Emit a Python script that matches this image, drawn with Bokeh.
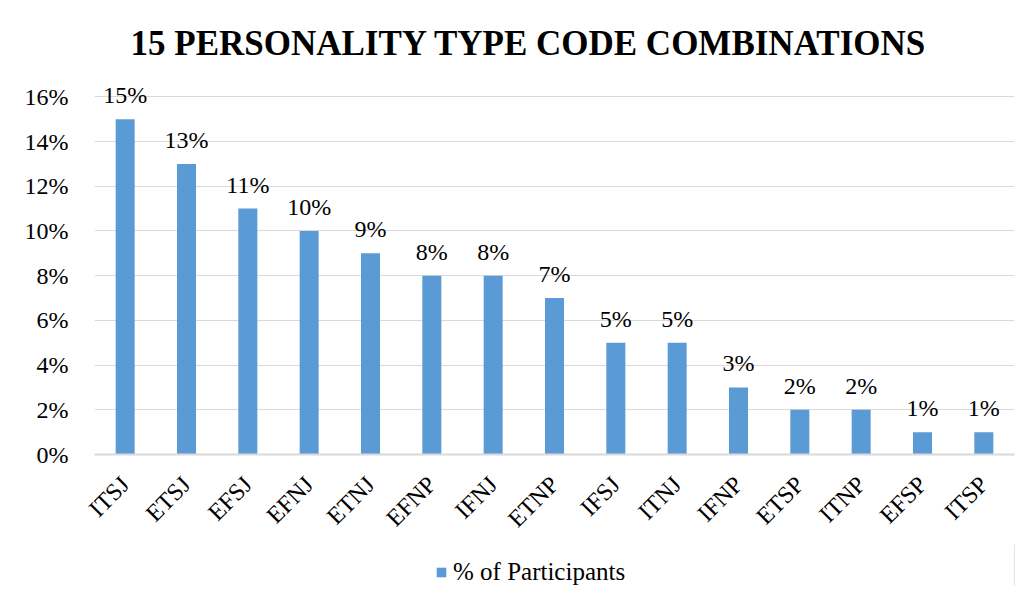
from bokeh.plotting import figure
from bokeh.layouts import column
from bokeh.models import ColumnDataSource, NumeralTickFormatter, FixedTicker, Legend, LegendItem, Range1d, FactorRange
from bokeh.core.properties import value
from bokeh.embed import file_html
from bokeh.resources import INLINE

categories = ["ITSJ", "ETSJ", "EFSJ", "EFNJ", "ETNJ", "EFNP", "IFNJ", "ETNP",
              "IFSJ", "ITNJ", "IFNP", "ETSP", "ITNP", "EFSP", "ITSP"]
participants_pct = [15, 13, 11, 10, 9, 8, 8, 7, 5, 5, 3, 2, 2, 1, 1]
y_ticks = [0, 2, 4, 6, 8, 10, 12, 14, 16]
series_name = "% of Participants"
BAR_COLOR = "#5B9BD5"

src = ColumnDataSource(dict(
    cat=categories,
    val=[v / 100 for v in participants_pct],
    lab=[f"{v}%" for v in participants_pct],
))

FONT = "Liberation Serif"

p = figure(width=1015, height=544, output_backend="svg", toolbar_location=None,
           x_range=FactorRange(factors=categories, range_padding=0),
           y_range=Range1d(0, 0.17),
           min_border_left=94, min_border_right=1, min_border_top=74, min_border_bottom=90)
p.title.text = "15 PERSONALITY TYPE CODE COMBINATIONS"
p.title.align = "left"
p.title.text_font = FONT
p.title.text_font_size = "35px"
p.title.text_font_style = "bold"
p.title.text_color = "#000000"
p.title.standoff = 23
p.title.offset = 36

r = p.vbar(x="cat", top="val", width=0.31, source=src, color=BAR_COLOR, line_color=None)
p.text(x="cat", y="val", text="lab", source=src, text_align="center", text_baseline="bottom",
       y_offset=-11, text_font=value(FONT), text_font_size="24px", text_color="#000000")

p.outline_line_color = None
p.xgrid.grid_line_color = None
p.ygrid.grid_line_color = "#d9d9d9"
p.ygrid.grid_line_width = 1

p.yaxis.ticker = FixedTicker(ticks=[t / 100 for t in y_ticks])
p.yaxis.formatter = NumeralTickFormatter(format="0%")
p.yaxis.axis_line_color = None
p.yaxis.major_tick_line_color = None
p.yaxis.minor_tick_line_color = None
p.yaxis.major_label_text_font = FONT
p.yaxis.major_label_text_font_size = "24px"
p.yaxis.major_label_text_color = "#000000"
p.yaxis.major_label_standoff = 20

p.xaxis.axis_line_color = "#d9d9d9"
p.xaxis.axis_line_width = 2
p.xaxis.major_tick_line_color = None
p.xaxis.minor_tick_line_color = None
p.xaxis.major_label_orientation = 0.785398
p.xaxis.major_label_text_font = FONT
p.xaxis.major_label_text_font_size = "24px"
p.xaxis.major_label_text_color = "#000000"
p.xaxis.major_label_standoff = 20

# legend in a small companion figure below the chart
lf = figure(width=1015, height=42, output_backend="svg", toolbar_location=None,
            x_range=Range1d(0, 1), y_range=Range1d(0, 1),
            min_border=0, min_border_left=0, min_border_right=0, min_border_top=0, min_border_bottom=0)
lf.axis.visible = False
lf.grid.visible = False
lf.outline_line_color = None
dummy = lf.vbar(x=[5], top=[5], width=0.3, color=BAR_COLOR, line_color=None)
legend = Legend(items=[LegendItem(label=series_name, renderers=[dummy])],
                orientation="horizontal", location=(341, 0),
                label_text_font=FONT, label_text_font_size="25px", label_text_color="#000000",
                glyph_width=12, glyph_height=12, border_line_color=None,
                background_fill_alpha=0, margin=0, padding=0, label_standoff=6)
lf.add_layout(legend)

layout = column(p, lf, spacing=0)
open("out.html", "w").write(file_html(layout, INLINE))
